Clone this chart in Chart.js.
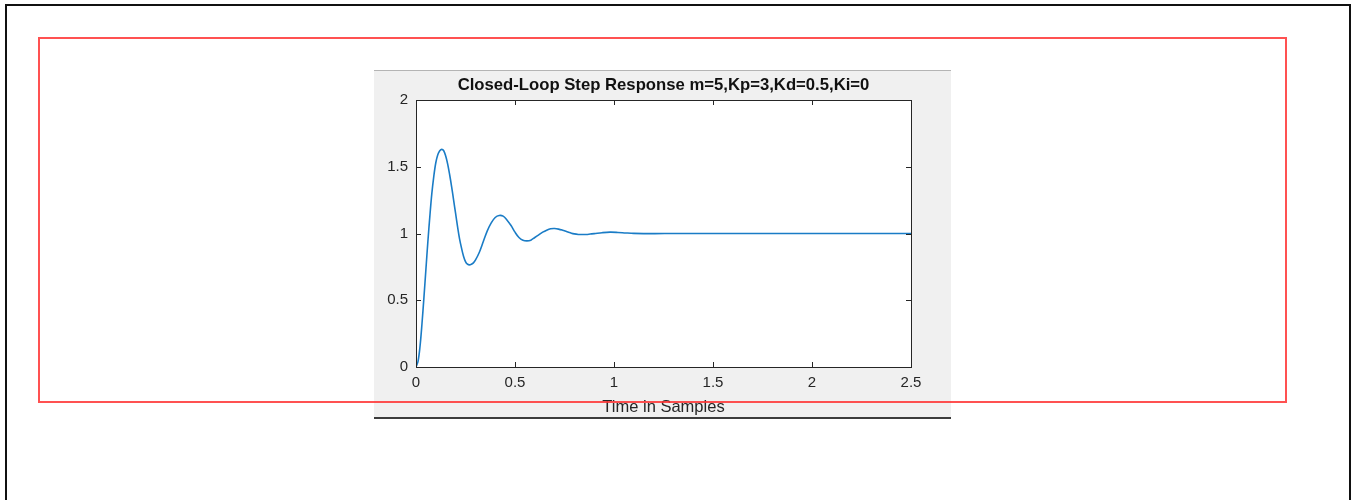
<!DOCTYPE html>
<html lang="en">
<head>
<meta charset="UTF-8">
<title>Closed-Loop Step Response</title>
<script src="https://cdn.jsdelivr.net/npm/chart.js"></script>
<style>
    html, body { margin: 0; padding: 0; background: #fff; }
    body { width: 1355px; height: 500px; position: relative; overflow: hidden; }
    #frame { position: absolute; left: 5px; top: 4px; width: 1342px; height: 540px; border: 2px solid #111; }
    #figure { position: absolute; left: 374px; top: 70px; width: 577px; height: 348px; background: #f0f0f0; }
    #figTop { position: absolute; left: 374px; top: 70px; width: 577px; height: 1px; background: #b4b4b4; }
    #figBottom { position: absolute; left: 374px; top: 417px; width: 577px; height: 1.5px; background: #3c3c3c; }
    #stepChart { display: block; }
    #selection { position: absolute; left: 38px; top: 37px; width: 1249px; height: 366px; box-sizing: border-box; border: 2px solid rgba(255, 50, 50, 0.85); pointer-events: none; }
</style>
</head>
<body>
<div id="frame"></div>
<div id="figure"><canvas id="stepChart" width="577" height="348"></canvas></div>
<div id="figTop"></div>
<div id="figBottom"></div>
<div id="selection"></div>
<script>
// values
const chartTitle = 'Closed-Loop Step Response m=5,Kp=3,Kd=0.5,Ki=0';
const xLabel = 'Time in Samples';

const timeSamples = [
    0, 0.01, 0.02, 0.03, 0.04, 0.05, 0.06, 0.07, 0.08, 0.09,
    0.10, 0.11, 0.12, 0.13, 0.14, 0.15, 0.16, 0.17, 0.18, 0.19,
    0.20, 0.21, 0.22, 0.23, 0.24, 0.25, 0.26, 0.27, 0.28, 0.29,
    0.30, 0.32, 0.34, 0.36, 0.38, 0.40, 0.42, 0.44, 0.46, 0.48,
    0.50, 0.52, 0.54, 0.56, 0.58, 0.60, 0.62, 0.64, 0.66, 0.68,
    0.70, 0.72, 0.74, 0.76, 0.78, 0.80, 0.82, 0.84, 0.86, 0.88,
    0.90, 0.94, 0.98, 1.02, 1.06, 1.10, 1.20, 1.30, 1.50, 2.00, 2.50
];
const response = [
    0, 0.04, 0.15, 0.32, 0.52, 0.73, 0.94, 1.13, 1.30, 1.43,
    1.53, 1.59, 1.62, 1.63, 1.62, 1.58, 1.52, 1.44, 1.35, 1.25,
    1.15, 1.05, 0.96, 0.89, 0.83, 0.79, 0.77, 0.765, 0.77, 0.78,
    0.80, 0.86, 0.94, 1.02, 1.08, 1.12, 1.135, 1.13, 1.10, 1.06,
    1.01, 0.97, 0.95, 0.945, 0.95, 0.97, 0.99, 1.01, 1.025, 1.035,
    1.037, 1.033, 1.025, 1.015, 1.005, 0.997, 0.993, 0.992, 0.993, 0.996,
    0.999, 1.006, 1.01, 1.008, 1.004, 1.001, 0.999, 1.0, 1.0, 1.0, 1.0
];

const xRange = [0, 2.5];
const yRange = [0, 2];
const tickStep = 0.5;

const textColor = '#262626';
const fontFamily = '"Liberation Sans", Arial, Helvetica, sans-serif';

// matlab style axes: white box, inward ticks, title on top
const matlabAxes = {
    id: 'matlabAxes',
    beforeDraw(chart) {
        const { ctx, chartArea: a } = chart;
        ctx.save();
        ctx.fillStyle = '#ffffff';
        ctx.fillRect(a.left, a.top, a.right - a.left, a.bottom - a.top);
        ctx.restore();
    },
    afterDatasetsDraw(chart) {
        const { ctx, chartArea: a, scales } = chart;
        const len = 5;
        ctx.save();
        ctx.strokeStyle = textColor;
        ctx.lineWidth = 1;
        ctx.beginPath();
        scales.x.ticks.forEach(t => {
            const px = Math.round(scales.x.getPixelForValue(t.value)) + 0.5;
            ctx.moveTo(px, a.bottom); ctx.lineTo(px, a.bottom - len);
            ctx.moveTo(px, a.top); ctx.lineTo(px, a.top + len);
        });
        scales.y.ticks.forEach(t => {
            const py = Math.round(scales.y.getPixelForValue(t.value)) + 0.5;
            ctx.moveTo(a.left, py); ctx.lineTo(a.left + len, py);
            ctx.moveTo(a.right, py); ctx.lineTo(a.right - len, py);
        });
        ctx.stroke();
        ctx.strokeRect(Math.round(a.left) + 0.5, Math.round(a.top) + 0.5,
            Math.round(a.right - a.left), Math.round(a.bottom - a.top));

        ctx.fillStyle = '#111';
        ctx.font = 'bold 16.7px ' + fontFamily;
        ctx.textAlign = 'center';
        ctx.textBaseline = 'middle';
        ctx.fillText(chartTitle, (a.left + a.right) / 2, 15);
        ctx.restore();
    }
};

const plainNumber = v => String(+Number(v).toFixed(2));

new Chart(document.getElementById('stepChart'), {
    type: 'line',
    data: {
        datasets: [{
            data: timeSamples.map((t, i) => ({ x: t, y: response[i] })),
            borderColor: '#1a7cc6',
            borderWidth: 1.6,
            pointRadius: 0,
            fill: false,
            tension: 0.35
        }]
    },
    options: {
        responsive: false,
        animation: false,
        layout: { padding: { top: 30, right: 40, left: 0, bottom: 0 } },
        plugins: {
            legend: { display: false },
            tooltip: { enabled: false }
        },
        scales: {
            x: {
                type: 'linear',
                min: xRange[0],
                max: xRange[1],
                afterFit(s) { s.height = 51; },
                grid: { display: false, drawTicks: false },
                border: { display: false },
                ticks: { stepSize: tickStep, color: textColor, padding: 7, callback: plainNumber, font: { family: fontFamily, size: 15 } },
                title: { display: true, text: xLabel, color: textColor, padding: { top: 0, bottom: 1 }, font: { family: fontFamily, size: 16.5 } }
            },
            y: {
                min: yRange[0],
                max: yRange[1],
                afterFit(s) { s.width = 42; },
                grid: { display: false, drawTicks: false },
                border: { display: false },
                ticks: { stepSize: tickStep, color: textColor, padding: 8, callback: plainNumber, font: { family: fontFamily, size: 15 } }
            }
        }
    },
    plugins: [matlabAxes]
});
</script>
</body>
</html>
